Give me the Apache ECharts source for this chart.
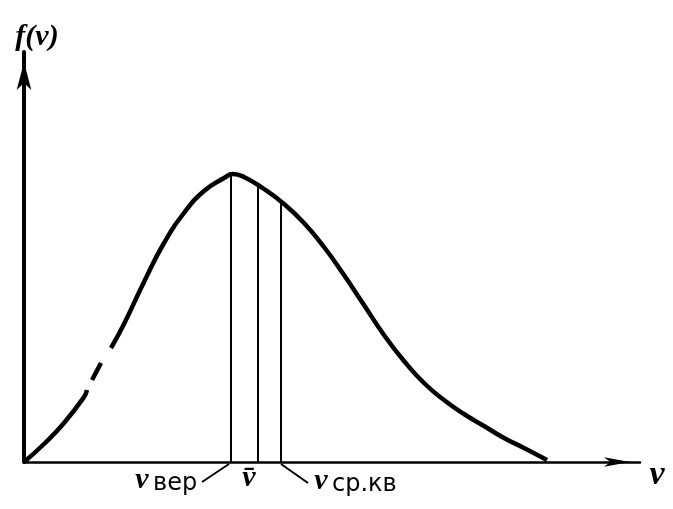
<!DOCTYPE html>
<html><head><meta charset="utf-8">
<script src="https://cdn.jsdelivr.net/npm/echarts@6/dist/echarts.min.js"></script>
<style>html,body{margin:0;padding:0;background:#fff}#c{width:673px;height:509px}</style>
</head><body><div id="c"></div>
<script>
// Maxwell speed distribution sketch (arbitrary units)
const curveV = [0, 20, 40, 60, 63, null, 68, 77, null, 87, 100, 120, 140, 160, 180, 200, 209, 220, 240, 260, 280, 300, 320, 340, 360, 380, 400, 420, 440, 460, 480, 500, 523];
const curveF = [0, 18, 39, 65, 72, null, 82, 99, null, 114, 138, 180, 219, 249, 271, 284, 288, 285, 273, 258, 239, 215, 187, 157, 127, 101, 79, 62, 48, 36, 24, 14, 2];
// characteristic speeds: most probable, mean, root-mean-square
const markV = [207, 234, 257];
const markF = [288, 276, 260];
const markSub = ['вер', '', 'ср.кв'];
const yAxisName = 'f(v)';
const xAxisName = 'v';

const chart = echarts.init(document.getElementById('c'));
const curveData = curveV.map((v, i) => (v === null ? [null, null] : [v, curveF[i]]));
const series = [{
  type: 'line', data: curveData, smooth: 0.5, showSymbol: false, connectNulls: false,
  lineStyle: { color: '#000', width: 4.5 }, silent: true
}];
markV.forEach((v, i) => {
  series.push({
    type: 'line', data: [[v, 0], [v, markF[i]]], showSymbol: false,
    lineStyle: { color: '#000', width: 2 }, silent: true
  });
});
chart.setOption({
  animation: false,
  backgroundColor: '#fff',
  grid: { left: 24, top: 52, width: 616, height: 410 },
  xAxis: {
    type: 'value', min: 0, max: 616,
    axisLine: { show: true, onZero: false, symbol: ['none', 'arrow'], symbolSize: [7, 26], symbolOffset: [0, -10], lineStyle: { color: '#000', width: 2.5 } },
    axisTick: { show: false }, axisLabel: { show: false }, splitLine: { show: false }
  },
  yAxis: {
    type: 'value', min: 0, max: 410,
    axisLine: { show: true, onZero: false, symbol: ['none', 'arrow'], symbolSize: [11, 28], symbolOffset: [0, -10], lineStyle: { color: '#000', width: 4 } },
    axisTick: { show: false }, axisLabel: { show: false }, splitLine: { show: false }
  },
  series
});

// annotations placed in data coordinates
const P = (x, y) => chart.convertToPixel({ gridIndex: 0 }, [x, y]);
const serif = '"Liberation Serif", "DejaVu Serif", serif';
const sans = '"DejaVu Sans", "Noto Sans", sans-serif';
const g = [];
function txt(x, y, s, font, align) {
  const p = P(x, y);
  g.push({ type: 'text', x: p[0], y: p[1], style: { text: s, font, fill: '#000', align: align || 'center', verticalAlign: 'middle' } });
}
function seg(a, b) {
  const p1 = P(a[0], a[1]), p2 = P(b[0], b[1]);
  g.push({ type: 'line', shape: { x1: p1[0], y1: p1[1], x2: p2[0], y2: p2[1] }, style: { stroke: '#000', lineWidth: 2 } });
}
txt(13, 425, yAxisName, 'italic bold 30px ' + serif);
txt(633, -13, xAxisName, 'italic bold 34px ' + serif);
// leader lines
seg([markV[0] - 2, -2], [178, -20]);
seg([markV[2], -2], [284, -21]);
// labels
txt(118, -18, 'v', 'italic bold 30px ' + serif);
txt(129, -22, markSub[0], '24px ' + sans, 'left');
txt(225, -16, 'v\u0304', 'italic bold 30px ' + serif);
txt(297, -19, 'v', 'italic bold 30px ' + serif);
txt(308, -23, markSub[2], '24px ' + sans, 'left');
chart.setOption({ graphic: g });
</script>
</body></html>
